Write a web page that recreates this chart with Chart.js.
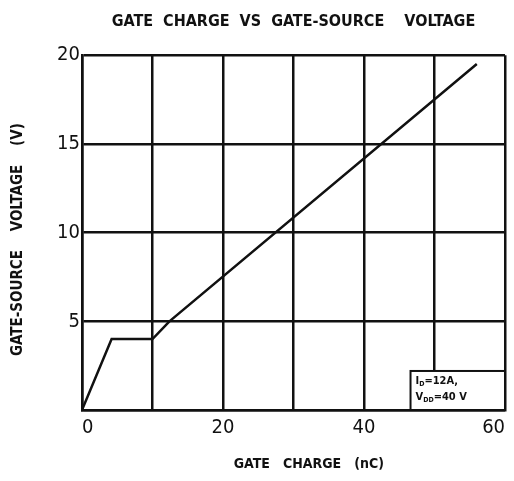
<!DOCTYPE html>
<html>
<head>
<meta charset="utf-8">
<script src="https://cdn.jsdelivr.net/npm/chart.js@4.4.1/dist/chart.umd.min.js"></script>
<style>
  html, body { margin: 0; padding: 0; background: #fff; }
</style>
</head>
<body>
<canvas id="chart-qg" width="514" height="481"></canvas>
<script>
// Gate charge curve (nC -> V)
const gateCharge = [0, 4.2, 10, 12.4, 56];
const gateVoltage = [0, 4.0, 4.0, 5.0, 19.5];

// Tick labels that are printed
const xLabels = [0, 20, 40, 60];
const yLabels = [5, 10, 15, 20];

// Test conditions in the little box (symbol, subscript, value)
const condSymbols = ['I', 'V'];
const condSubs = ['D', 'DD'];
const condValues = ['=12A,', '=40 V'];

const INK = '#111';
const FONT = "'DejaVu Sans Condensed', 'Liberation Sans Narrow', sans-serif";

const points = gateCharge.map((q, i) => ({ x: q, y: gateVoltage[i] }));

// box with the test conditions, bottom right corner of the grid
const condBox = {
  id: 'condBox',
  afterDraw(chart) {
    const { ctx, chartArea, scales } = chart;
    const x0 = scales.x.getPixelForValue(46.6);
    const y0 = scales.y.getPixelForValue(2.2);
    ctx.save();
    ctx.fillStyle = '#fff';
    ctx.fillRect(x0, y0, chartArea.right - x0, chartArea.bottom - y0);
    ctx.strokeStyle = INK;
    ctx.lineWidth = 2;
    ctx.strokeRect(x0, y0, chartArea.right - x0, chartArea.bottom - y0);
    ctx.fillStyle = INK;
    ctx.textBaseline = 'alphabetic';
    condSymbols.forEach((s, i) => {
      let x = x0 + 5;
      const y = y0 + 13 + i * 16;
      ctx.font = 'bold 11px ' + FONT;
      ctx.fillText(s, x, y);
      x += ctx.measureText(s).width;
      ctx.font = 'bold 7px ' + FONT;
      ctx.fillText(condSubs[i], x, y + 2);
      x += ctx.measureText(condSubs[i]).width;
      ctx.font = 'bold 11px ' + FONT;
      ctx.fillText(condValues[i], x, y);
    });
    ctx.restore();
  },
};

// the scan prints the end labels nudged inwards
function xTickText(v) {
  if (!xLabels.includes(v)) return '';
  if (v === 0) return '  ' + v;
  if (v === 60) return v + '    ';
  return String(v);
}

new Chart(document.getElementById('chart-qg'), {
  type: 'scatter',
  data: {
    datasets: [
      {
        data: points,
        showLine: true,
        borderColor: INK,
        borderWidth: 2.5,
        pointRadius: 0,
        tension: 0,
      },
    ],
  },
  options: {
    responsive: false,
    animation: false,
    layout: { padding: { left: 0, right: 9, top: 0, bottom: 0 } },
    plugins: {
      legend: { display: false },
      tooltip: { enabled: false },
      title: {
        display: true,
        fullSize: false,
        text: 'GATE  CHARGE  VS  GATE-SOURCE    VOLTAGE',
        color: INK,
        font: { family: FONT, size: 16, weight: 'bold' },
        padding: { top: 12, bottom: 24 },
      },
    },
    scales: {
      x: {
        type: 'linear',
        min: 0,
        max: 60,
        afterFit: (s) => {
          s.height = 71;
          s.paddingLeft = 0;
          s.paddingRight = 0;
        },
        border: { color: INK, width: 2.5 },
        grid: { color: INK, lineWidth: 2.5, drawTicks: false },
        ticks: {
          stepSize: 10,
          padding: 6,
          color: INK,
          font: { family: FONT, size: 20 },
          callback: xTickText,
        },
        title: {
          display: true,
          text: '       GATE   CHARGE   (nC)',
          color: INK,
          font: { family: FONT, size: 14, weight: 'bold' },
          padding: { top: 0, bottom: 8 },
        },
      },
      y: {
        type: 'linear',
        min: 0,
        max: 20,
        afterFit: (s) => { s.width = 82; },
        border: { color: INK, width: 2.5 },
        grid: { color: INK, lineWidth: 2.5, drawTicks: false },
        ticks: {
          stepSize: 5,
          padding: 2,
          color: INK,
          font: { family: FONT, size: 20 },
          callback: (v) => (yLabels.includes(v) ? String(v) : ''),
        },
        title: {
          display: true,
          text: 'GATE-SOURCE    VOLTAGE    (V)   ',
          color: INK,
          font: { family: FONT, size: 15, weight: 'bold' },
          padding: { top: 9, bottom: 0 },
        },
      },
    },
  },
  plugins: [condBox],
});
</script>
</body>
</html>
